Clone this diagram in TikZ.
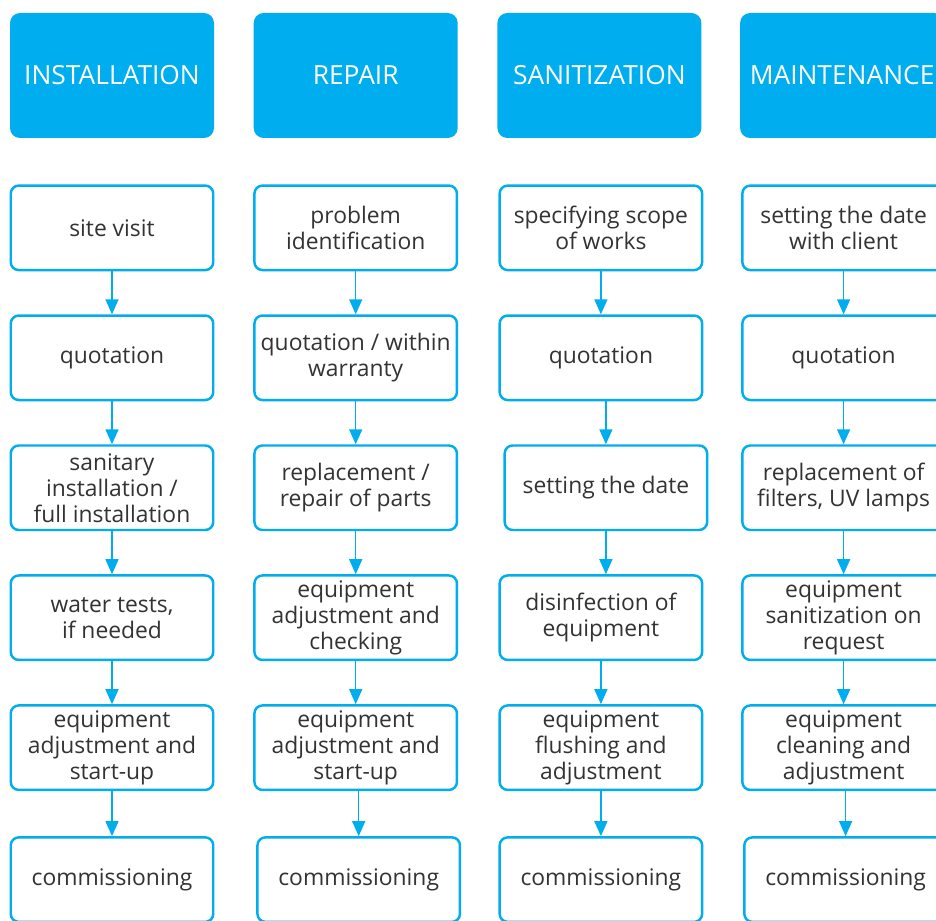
\documentclass[tikz,border=0pt]{standalone}
\usepackage{fontspec}
\setmainfont{Open Sans}
\usepackage{xcolor}
\usetikzlibrary{positioning, arrows.meta}
\definecolor{brandcyan}{HTML}{00AEEF}
\definecolor{textgray}{HTML}{333333}

\begin{document}
\begin{tikzpicture}[
      node distance=0.86cm and 0.78cm,
      head/.style={fill=brandcyan, rounded corners=0.2cm, minimum width=4.08cm, minimum height=2.5cm, text=white, font=\fontsize{15}{16}\selectfont},
      stepbox/.style={draw=brandcyan, line width=1.4pt, rounded corners=0.16cm, fill=white, align=center, minimum width=4.05cm, minimum height=1.69cm, inner sep=0pt, text=textgray, font=\fontsize{13}{14.8}\selectfont},
      every edge/.style={draw=brandcyan, line width=0.85pt, -{Triangle[length=0.3cm, width=0.26cm]}}
    ]
    \useasboundingbox (0,0) rectangle (18.72,-18.42);

    \node[head] (inst) at (2.24,-1.51) {INSTALLATION};
    \node[head, right=of inst] (rep) {REPAIR};
    \node[head, right=of rep] (san) {SANITIZATION};
    \node[head, right=0.76cm of san] (maint) {MAINTENANCE};

    \node[stepbox, below=0.92cm of inst] (inst1) {site visit};
    \node[stepbox, below=of inst1] (inst2) {quotation};
    \node[stepbox, below=of inst2] (inst3) {sanitary\\installation /\\full installation};
    \node[stepbox, below=of inst3] (inst4) {water tests,\\if needed};
    \node[stepbox, below=of inst4] (inst5) {equipment\\adjustment and\\start-up};
    \node[stepbox, below=0.9cm of inst5] (inst6) {commissioning};

    \node[stepbox, below=0.92cm of rep] (rep1) {problem\\identification};
    \node[stepbox, below=of rep1] (rep2) {quotation / within\\warranty};
    \node[stepbox, below=of rep2] (rep3) {replacement /\\repair of parts};
    \node[stepbox, below=of rep3] (rep4) {equipment\\adjustment and\\checking};
    \node[stepbox, below=of rep4] (rep5) {equipment\\adjustment and\\start-up};
    \node[stepbox, below=0.9cm of rep5, xshift=0.06cm] (rep6) {commissioning};

    \node[stepbox, below=0.92cm of san, xshift=0.03cm] (san1) {specifying scope\\of works};
    \node[stepbox, below=of san1] (san2) {quotation};
    \node[stepbox, below=of san2, xshift=0.1cm] (san3) {setting the date};
    \node[stepbox, below=of san3, xshift=-0.1cm] (san4) {disinfection of\\equipment};
    \node[stepbox, below=of san4] (san5) {equipment\\flushing and\\adjustment};
    \node[stepbox, below=0.9cm of san5] (san6) {commissioning};

    \node[stepbox, below=0.92cm of maint, xshift=0.03cm] (maint1) {setting the date\\with client};
    \node[stepbox, below=of maint1] (maint2) {quotation};
    \node[stepbox, below=of maint2] (maint3) {replacement of\\filters, UV lamps};
    \node[stepbox, below=of maint3] (maint4) {equipment\\sanitization on\\request};
    \node[stepbox, below=of maint4] (maint5) {equipment\\cleaning and\\adjustment};
    \node[stepbox, below=0.9cm of maint5, xshift=0.04cm] (maint6) {commissioning};

    \draw (inst1) edge (inst2) (inst2) edge (inst3) (inst3) edge (inst4) (inst4) edge (inst5) (inst5) edge (inst6);
    \draw (rep1) edge (rep2) (rep2) edge (rep3) (rep3) edge (rep4) (rep4) edge (rep5);
    \draw (rep6.north |- rep5.south) edge (rep6.north);
    \draw (san1) edge (san2) (san4) edge (san5) (san5) edge (san6);
    \draw (san3.north |- san2.south) edge (san3.north);
    \draw (san3.south) edge (san3.south |- san4.north);
    \draw (maint1) edge (maint2) (maint2) edge (maint3) (maint3) edge (maint4) (maint4) edge (maint5);
    \draw (maint6.north |- maint5.south) edge (maint6.north);
  \end{tikzpicture}
\end{document}
